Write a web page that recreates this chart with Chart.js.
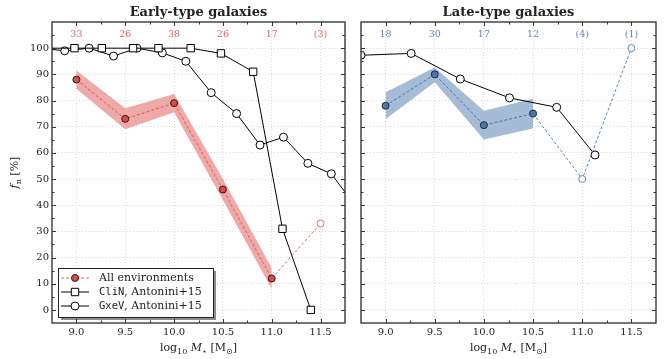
<!DOCTYPE html>
<html>
<head>
<meta charset="utf-8">
<script src="https://cdn.jsdelivr.net/npm/chart.js@4.4.0/dist/chart.umd.min.js"></script>
<style>
  html, body { margin: 0; padding: 0; background: #fff; }
  #wrap { position: relative; width: 671px; height: 359px; overflow: hidden; }
  canvas { position: absolute; top: 0; }
  #cEarly { left: 0; }
  #cLate { left: 355px; }
</style>
</head>
<body>
<div id="wrap">
  <canvas id="cEarly" width="355" height="359" style="width:355px;height:359px"></canvas>
  <canvas id="cLate" width="316" height="359" style="width:316px;height:359px"></canvas>
</div>
<script>
// ---- data -------------------------------------------------------------
// stellar-mass bins (log10 M*) and number of galaxies per bin
const massBins    = [9.0, 9.5, 10.0, 10.5, 11.0, 11.5];
const earlyCounts = ['33', '26', '38', '26', '17', '(3)'];
const lateCounts  = ['18', '30', '17', '12', '(4)', '(1)'];

// nucleation fraction, all environments: early types
const earlyMass  = [9.0, 9.5, 10.0, 10.5, 11.0];
const earlyFrac  = [88, 73, 79, 46, 12];
const earlyUpper = [91.5, 77, 82.5, 50, 16];
const earlyLower = [84.5, 69, 75.5, 42, 8];
const earlyTailMass = [11.0, 11.5];
const earlyTailFrac = [12, 33];

// nucleation fraction, all environments: late types
const lateMass  = [9.0, 9.5, 10.0, 10.5];
const lateFrac  = [78, 90, 70.6, 75];
const lateUpper = [83.2, 92.6, 76.1, 80.7];
const lateLower = [72.8, 87.0, 65.1, 69.3];
const lateTailMass = [10.5, 11.0, 11.5];
const lateTailFrac = [75, 50, 100];

// Antonini+15 models
const clinEarlyMass = [8.68, 8.98, 9.26, 9.58, 9.84, 10.17, 10.48, 10.81, 11.11, 11.40];
const clinEarlyFrac = [100, 100, 100, 100, 100, 100, 98, 91, 31, 0];
const gxevEarlyMass = [8.63, 8.88, 9.13, 9.38, 9.62, 9.88, 10.12, 10.38, 10.64, 10.88, 11.12, 11.37, 11.61, 11.86];
const gxevEarlyFrac = [100, 99, 100, 97, 100, 98.2, 95, 83, 75, 63, 66, 56, 52, 39.5];
const gxevLateMass  = [8.75, 9.26, 9.76, 10.26, 10.74, 11.13];
const gxevLateFrac  = [97.3, 98, 88.2, 81, 77.4, 59.2];

// ---- styling ------------------------------------------------------------
const SERIF = '"DejaVu Serif", "DejaVu Sans", serif';
const MONO = '"DejaVu Sans Mono", monospace';
const INK = '#222';

const pts = (xs, ys) => xs.map((v, i) => ({ x: v, y: ys[i] }));
const isMult = (v, step) => Math.abs(v / step - Math.round(v / step)) < 1e-6;

function drawRich(ctx, parts, x, y) {
  let total = 0;
  parts.forEach(p => { ctx.font = p.f; p.w = ctx.measureText(p.t).width; total += p.w; });
  let cx = x - total / 2;
  ctx.textAlign = 'left';
  ctx.textBaseline = 'alphabetic';
  parts.forEach(p => { ctx.font = p.f; ctx.fillText(p.t, cx, y + (p.dy || 0)); cx += p.w; });
}

function marker(ctx, kind, x, y, fill, stroke) {
  ctx.beginPath();
  if (kind === 'rect') { ctx.rect(x - 3.7, y - 3.7, 7.4, 7.4); }
  else { ctx.arc(x, y, kind === 'dot' ? 3.5 : 4, 0, Math.PI * 2); }
  ctx.fillStyle = fill; ctx.fill();
  ctx.lineWidth = 1; ctx.strokeStyle = stroke; ctx.stroke();
}

function decor(cfg) {
  return {
    id: 'panelDecor',
    afterDraw(chart) {
      const { ctx, chartArea: a, scales: { x, y } } = chart;
      ctx.save();
      const seg = (x1, y1, x2, y2) => { ctx.beginPath(); ctx.moveTo(x1, y1); ctx.lineTo(x2, y2); ctx.stroke(); };

      // inward tick marks on all four sides
      ctx.strokeStyle = '#333'; ctx.lineWidth = 1;
      x.ticks.forEach(t => {
        if (t.value <= x.min + 1e-6 || t.value >= x.max - 1e-6) return;
        const px = Math.round(x.getPixelForValue(t.value)) + 0.5;
        const L = isMult(t.value, 0.5) ? 4 : 2.5;
        seg(px, a.bottom, px, a.bottom - L); seg(px, a.top, px, a.top + L);
      });
      y.ticks.forEach(t => {
        if (t.value <= y.min + 1e-6 || t.value >= y.max - 1e-6) return;
        const py = Math.round(y.getPixelForValue(t.value)) + 0.5;
        const L = isMult(t.value, 10) ? 4 : 2.5;
        seg(a.left, py, a.left + L, py); seg(a.right, py, a.right - L, py);
      });

      // frame
      ctx.strokeStyle = '#3a3a3a'; ctx.lineWidth = 1.4;
      ctx.strokeRect(a.left, a.top, a.right - a.left, a.bottom - a.top);

      // panel title
      ctx.fillStyle = INK;
      ctx.font = 'bold 13px ' + SERIF;
      ctx.textAlign = 'center'; ctx.textBaseline = 'alphabetic';
      ctx.fillText(cfg.title, (a.left + a.right) / 2, 16);

      // galaxy counts per mass bin
      ctx.fillStyle = cfg.countColor;
      ctx.font = '9.5px ' + SERIF;
      ctx.textBaseline = 'middle';
      cfg.counts.forEach((c, i) => ctx.fillText(c, x.getPixelForValue(massBins[i]), 35));

      // x-axis title
      ctx.fillStyle = INK;
      drawRich(ctx, [
        { t: 'log', f: '11px ' + SERIF },
        { t: '10', f: '8px ' + SERIF, dy: 3 },
        { t: ' ', f: '11px ' + SERIF },
        { t: 'M', f: 'italic 11px ' + SERIF },
        { t: '\u22C6', f: '8px "DejaVu Sans"', dy: 3 },
        { t: ' [M', f: '11px ' + SERIF },
        { t: '\u2299', f: '8px "DejaVu Sans"', dy: 3 },
        { t: ']', f: '11px ' + SERIF }
      ], (a.left + a.right) / 2, 351);

      // y-axis title
      if (cfg.yTitle) {
        ctx.save();
        ctx.translate(18, (a.top + a.bottom) / 2);
        ctx.rotate(-Math.PI / 2);
        drawRich(ctx, [
          { t: 'f', f: 'italic 11px ' + SERIF },
          { t: 'n', f: '8px ' + SERIF, dy: 3 },
          { t: ' [%]', f: '11px ' + SERIF }
        ], 0, 0);
        ctx.restore();
      }

      // legend
      if (cfg.legend) {
        const bx = 58, by = 268, bw = 155, bh = 49;
        ctx.fillStyle = 'rgba(0,0,0,0.45)';
        ctx.fillRect(bx + 3, by + 3, bw, bh);
        ctx.fillStyle = '#fff';
        ctx.fillRect(bx, by, bw, bh);
        ctx.strokeStyle = '#222'; ctx.lineWidth = 1;
        ctx.strokeRect(bx + 0.5, by + 0.5, bw, bh);
        const rows = [278, 292, 306];
        // row 1: all environments
        ctx.strokeStyle = '#e06060'; ctx.setLineDash([3, 2]);
        seg(61, rows[0], 89, rows[0]);
        ctx.setLineDash([]);
        marker(ctx, 'dot', 75, rows[0], '#d44c4c', '#3a1616');
        // rows 2-3: model lines
        ctx.strokeStyle = '#000';
        seg(61, rows[1], 89, rows[1]); marker(ctx, 'rect', 75, rows[1], '#fff', '#000');
        ctx.strokeStyle = '#000';
        seg(61, rows[2], 89, rows[2]); marker(ctx, 'circle', 75, rows[2], '#fff', '#000');
        ctx.fillStyle = INK; ctx.textAlign = 'left'; ctx.textBaseline = 'middle';
        ctx.font = '11px ' + SERIF;
        ctx.fillText('All environments', 99, rows[0]);
        [['CliN', rows[1]], ['GxeV', rows[2]]].forEach(([code, ry]) => {
          ctx.font = '10.5px ' + MONO;
          ctx.fillText(code, 99, ry);
          const w = ctx.measureText(code).width;
          ctx.font = '11px ' + SERIF;
          ctx.fillText(', Antonini+15', 99 + w, ry);
        });
      }
      ctx.restore();
    }
  };
}

function axes(showYLabels) {
  return {
    x: {
      type: 'linear', min: 8.75, max: 11.75,
      afterFit: s => { s.height = 36; },
      ticks: {
        stepSize: 0.25, autoSkip: false, maxRotation: 0, padding: 3, color: INK,
        font: { family: SERIF, size: 10 },
        callback: v => (isMult(v, 0.5) && v >= 9 && v <= 11.5) ? v.toFixed(1) : ''
      },
      grid: {
        drawTicks: false, lineWidth: 0.8,
        color: c => (c.tick && isMult(c.tick.value, 0.5) && c.tick.value >= 9 && c.tick.value <= 11.5) ? '#cfcfcf' : 'rgba(0,0,0,0)'
      },
      border: { display: false, dash: [1, 2] }
    },
    y: {
      type: 'linear', min: -5, max: 110,
      afterFit: s => { s.width = showYLabels ? 52 : 0; },
      ticks: {
        display: showYLabels, stepSize: 5, autoSkip: false, padding: 3, color: INK,
        font: { family: SERIF, size: 10 },
        callback: v => (isMult(v, 10) && v >= 0 && v <= 100) ? String(v) : ''
      },
      grid: {
        drawTicks: false, lineWidth: 0.8,
        color: c => (c.tick && isMult(c.tick.value, 10) && c.tick.value >= 0 && c.tick.value <= 100) ? '#cfcfcf' : 'rgba(0,0,0,0)'
      },
      border: { display: false, dash: [1, 2] }
    }
  };
}

function bandSets(xs, up, lo, color) {
  return [
    { data: pts(xs, up), borderWidth: 0, pointRadius: 0, fill: false, order: 20, clip: 0 },
    { data: pts(xs, lo), borderWidth: 0, pointRadius: 0, fill: '-1', backgroundColor: color, order: 20, clip: 0 }
  ];
}

function modelSet(xs, ys, style, r) {
  return {
    data: pts(xs, ys), borderColor: '#000', borderWidth: 1, tension: 0,
    pointStyle: style, pointRadius: r, pointBackgroundColor: '#fff',
    pointBorderColor: '#000', pointBorderWidth: 1, fill: false, order: 5, clip: 0
  };
}

function mainSet(xs, ys, line, face, edge) {
  return {
    data: pts(xs, ys), borderColor: line, borderWidth: 1, borderDash: [3, 2], tension: 0,
    pointRadius: 3.5, pointBackgroundColor: face, pointBorderColor: edge, pointBorderWidth: 1,
    fill: false, order: 1, clip: 0
  };
}

function tailSet(xs, ys, line) {
  return {
    data: pts(xs, ys), borderColor: line, borderWidth: 1, borderDash: [3, 2], tension: 0,
    pointRadius: ys.map((_, i) => i === 0 ? 0 : 3.5), pointBackgroundColor: '#fff',
    pointBorderColor: line, pointBorderWidth: 1, fill: false, order: 2, clip: 0
  };
}

const common = (pad, showY) => ({
  responsive: false, animation: false, events: [],
  layout: { padding: pad },
  plugins: { legend: { display: false }, tooltip: { enabled: false } },
  scales: axes(showY)
});

new Chart(document.getElementById('cEarly'), {
  type: 'line',
  data: {
    datasets: [
      ...bandSets(earlyMass, earlyUpper, earlyLower, '#f0a9a9'),
      mainSet(earlyMass, earlyFrac, '#e05858', '#d44c4c', '#3a1616'),
      tailSet(earlyTailMass, earlyTailFrac, '#e86a6a'),
      modelSet(clinEarlyMass, clinEarlyFrac, 'rect', 5.2),
      modelSet(gxevEarlyMass, gxevEarlyFrac, 'circle', 4)
    ]
  },
  options: common({ left: 0, right: 10, top: 22, bottom: 0 }, true),
  plugins: [decor({ title: 'Early-type galaxies', counts: earlyCounts, countColor: '#e06262', yTitle: true, legend: true })]
});

new Chart(document.getElementById('cLate'), {
  type: 'line',
  data: {
    datasets: [
      ...bandSets(lateMass, lateUpper, lateLower, '#a5bbd6'),
      mainSet(lateMass, lateFrac, '#4a76ae', '#4d78ad', '#1a2a40'),
      tailSet(lateTailMass, lateTailFrac, '#5b86bd'),
      modelSet(gxevLateMass, gxevLateFrac, 'circle', 4)
    ]
  },
  options: common({ left: 6, right: 15, top: 22, bottom: 0 }, false),
  plugins: [decor({ title: 'Late-type galaxies', counts: lateCounts, countColor: '#5f87bb', yTitle: false, legend: false })]
});
</script>
</body>
</html>
